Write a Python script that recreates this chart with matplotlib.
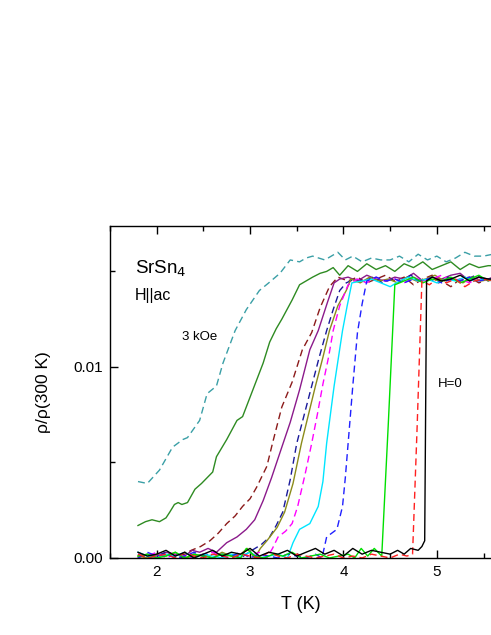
import matplotlib
matplotlib.use("Agg")
import matplotlib.pyplot as plt
from matplotlib.ticker import MultipleLocator

plt.rcParams.update({"font.family": ["Liberation Sans", "DejaVu Sans"], "font.size": 11})

# resistivity in units of 1e-3 (rho/rho(300K))
# 3 kOe, teal dashed
t_teal = [1.80, 1.90, 2.03, 2.17, 2.28, 2.33, 2.46, 2.54, 2.64, 2.71, 2.84, 2.96, 3.10, 3.20, 3.32, 3.43,
          3.53, 3.60, 3.67, 3.80, 3.94, 4.02, 4.10, 4.20, 4.30, 4.40, 4.50, 4.60, 4.70, 4.80, 4.90, 5.00,
          5.10, 5.20, 5.30, 5.40, 5.50, 5.60]
r_teal = [4.0, 3.9, 4.6, 5.8, 6.2, 6.3, 7.2, 8.6, 9.0, 10.2, 11.9, 13.0, 14.0, 14.4, 14.9, 15.6,
          15.5, 15.7, 15.8, 15.6, 16.0, 15.6, 15.8, 15.5, 15.7, 15.6, 15.6, 15.8, 15.5, 15.9, 15.6, 15.8,
          15.5, 15.7, 16.0, 15.8, 15.8, 15.9]
# dark green solid
t_green = [1.80, 1.88, 1.95, 2.03, 2.10, 2.14, 2.19, 2.23, 2.27, 2.33, 2.41, 2.48, 2.54, 2.60, 2.64, 2.75,
           2.86, 2.92, 3.03, 3.14, 3.21, 3.28, 3.34, 3.45, 3.53, 3.60, 3.67, 3.75, 3.82, 3.89, 3.96, 4.05,
           4.15, 4.25, 4.35, 4.45, 4.55, 4.65, 4.75, 4.85, 4.95, 5.05, 5.15, 5.25, 5.35, 5.45, 5.55, 5.60]
r_green = [1.7, 1.9, 2.0, 1.9, 2.1, 2.4, 2.8, 2.9, 2.8, 2.9, 3.6, 3.9, 4.2, 4.5, 5.3, 6.2,
           7.2, 7.4, 8.8, 10.2, 11.3, 12.0, 12.5, 13.5, 14.3, 14.5, 14.7, 14.9, 15.0, 15.2, 14.8, 15.3,
           15.0, 15.4, 15.1, 15.3, 15.0, 15.4, 15.2, 15.5, 15.1, 15.3, 15.5, 15.1, 15.4, 15.2, 15.3, 15.3]
# brown dashed
t_brown = [1.80, 1.90, 2.00, 2.10, 2.20, 2.30, 2.37, 2.47, 2.57, 2.66, 2.75, 2.84, 2.92, 3.00, 3.07, 3.18,
           3.24, 3.34, 3.45, 3.56, 3.66, 3.75, 3.85, 3.94, 4.05, 4.15, 4.25, 4.35, 4.45, 4.55, 4.65, 4.75,
           4.85, 4.95, 5.05, 5.15, 5.25, 5.35, 5.45, 5.55, 5.60]
r_brown = [0.1, 0.2, 0.0, 0.3, 0.1, 0.2, 0.4, 0.6, 0.9, 1.3, 1.8, 2.2, 2.7, 3.1, 3.7, 4.8,
           6.0, 7.9, 9.2, 10.9, 11.8, 13.1, 14.2, 14.7, 14.5, 14.7, 14.4, 14.6, 14.8, 14.5, 14.7, 14.3,
           14.6, 14.8, 14.5, 14.2, 14.6, 14.7, 14.4, 14.6, 14.6]
# purple solid
t_purple = [1.80, 1.90, 2.00, 2.10, 2.20, 2.30, 2.38, 2.46, 2.55, 2.64, 2.75, 2.86, 2.96, 3.05, 3.14, 3.23,
            3.34, 3.43, 3.53, 3.64, 3.73, 3.83, 3.90, 3.96, 4.05, 4.15, 4.25, 4.35, 4.45, 4.55, 4.65, 4.75,
            4.85, 4.95, 5.05, 5.15, 5.25, 5.35, 5.45, 5.55, 5.60]
r_purple = [0.0, 0.2, 0.1, 0.3, 0.2, 0.1, 0.4, 0.3, 0.5, 0.3, 0.8, 1.1, 1.5, 2.0, 3.0, 4.2,
            5.8, 7.1, 8.8, 10.9, 11.9, 13.4, 14.4, 14.6, 14.7, 14.5, 14.8, 14.6, 14.5, 14.7, 14.6, 14.9,
            14.5, 14.7, 14.6, 14.8, 14.9, 14.5, 14.7, 14.6, 14.7]
# navy dashed
t_navy = [1.80, 1.90, 2.00, 2.10, 2.20, 2.30, 2.40, 2.50, 2.60, 2.70, 2.80, 2.90, 3.02, 3.12, 3.21, 3.28,
          3.35, 3.43, 3.50, 3.58, 3.66, 3.74, 3.82, 3.89, 3.96, 4.03, 4.12, 4.22, 4.32, 4.42, 4.52, 4.62,
          4.72, 4.82, 4.92, 5.02, 5.12, 5.22, 5.32, 5.42, 5.52, 5.60]
r_navy = [0.2, 0.0, 0.1, 0.3, 0.1, 0.0, 0.2, 0.1, 0.3, 0.1, 0.2, 0.0, 0.4, 0.7, 1.1, 1.7,
          2.4, 4.1, 6.0, 7.5, 9.0, 10.5, 11.9, 13.0, 14.0, 14.4, 14.6, 14.5, 14.7, 14.4, 14.6, 14.5,
          14.8, 14.5, 14.6, 14.4, 14.7, 14.5, 14.6, 14.8, 14.5, 14.6]
# olive solid
t_olive = [1.80, 1.90, 2.00, 2.10, 2.20, 2.30, 2.40, 2.50, 2.60, 2.70, 2.80, 2.90, 2.97, 3.05, 3.11, 3.18,
           3.29, 3.37, 3.46, 3.55, 3.62, 3.70, 3.78, 3.85, 3.94, 4.03, 4.08, 4.18, 4.28, 4.38, 4.48, 4.58,
           4.68, 4.78, 4.88, 4.98, 5.08, 5.18, 5.28, 5.38, 5.48, 5.58]
r_olive = [0.1, 0.0, 0.2, 0.1, 0.3, 0.0, 0.1, 0.2, 0.0, 0.3, 0.1, 0.2, 0.5, 0.0, 0.5, 0.9,
           1.6, 2.4, 3.9, 6.0, 7.4, 9.0, 10.5, 11.9, 13.2, 14.0, 14.6, 14.4, 14.7, 14.5, 14.6, 14.4,
           14.7, 14.5, 14.6, 14.8, 14.5, 14.6, 14.4, 14.7, 14.5, 14.6]
# magenta dashed
t_mag = [1.80, 1.90, 2.00, 2.10, 2.20, 2.30, 2.40, 2.50, 2.60, 2.70, 2.80, 2.90, 3.00, 3.10, 3.18, 3.24,
         3.30, 3.38, 3.45, 3.51, 3.59, 3.66, 3.72, 3.78, 3.84, 3.89, 3.96, 4.05, 4.15, 4.25, 4.35, 4.45,
         4.55, 4.65, 4.75, 4.85, 4.95, 5.05, 5.15, 5.25, 5.35, 5.45, 5.55, 5.60]
r_mag = [0.2, 0.1, 0.3, 0.0, 0.2, 0.1, 0.0, 0.2, 0.3, 0.1, 0.0, 0.2, 0.1, 0.3, 0.0, 0.5,
         1.1, 1.4, 1.8, 2.7, 4.4, 6.0, 7.5, 9.1, 10.5, 11.9, 13.2, 14.3, 14.6, 14.4, 14.7, 14.5,
         14.6, 14.4, 14.7, 14.5, 14.6, 14.8, 14.5, 14.6, 14.4, 14.7, 14.5, 14.6]
# cyan solid
t_cyan = [1.80, 1.90, 2.00, 2.10, 2.20, 2.30, 2.40, 2.50, 2.60, 2.70, 2.80, 2.90, 3.00, 3.10, 3.20, 3.30,
          3.40, 3.46, 3.53, 3.64, 3.73, 3.78, 3.82, 3.90, 3.99, 4.04, 4.09, 4.20, 4.30, 4.40, 4.50, 4.60,
          4.70, 4.80, 4.90, 5.00, 5.10, 5.20, 5.30, 5.40, 5.50, 5.60]
r_cyan = [0.3, 0.1, 0.0, 0.2, 0.1, 0.3, 0.0, 0.2, 0.1, 0.0, 0.2, 0.1, 0.3, 0.0, 0.1, 0.2,
          0.0, 0.8, 1.5, 1.8, 2.7, 4.0, 6.0, 9.0, 11.9, 13.2, 14.4, 14.5, 14.6, 14.4, 14.2, 14.5,
          14.7, 14.5, 14.6, 14.4, 14.6, 14.5, 14.7, 14.5, 14.6, 14.5]
# blue dashed
t_blue = [1.80, 1.90, 2.00, 2.10, 2.20, 2.30, 2.40, 2.50, 2.60, 2.70, 2.80, 2.90, 3.00, 3.10, 3.20, 3.30,
          3.40, 3.50, 3.60, 3.70, 3.77, 3.82, 3.93, 3.99, 4.02, 4.05, 4.10, 4.15, 4.20, 4.25, 4.35, 4.45,
          4.55, 4.65, 4.75, 4.85, 4.95, 5.05, 5.15, 5.25, 5.35, 5.45, 5.55, 5.60]
r_blue = [0.0, 0.3, 0.1, 0.2, 0.0, 0.1, 0.3, 0.1, 0.0, 0.2, 0.1, 0.3, 0.0, 0.2, 0.1, 0.0,
          0.2, 0.1, 0.0, 0.2, 0.0, 1.1, 1.5, 2.7, 4.2, 6.0, 9.0, 11.8, 13.3, 14.5, 14.7, 14.5,
          14.6, 14.4, 14.6, 14.5, 14.7, 14.4, 14.6, 14.5, 14.7, 14.5, 14.6, 14.6]
# lime solid
t_lime = [1.80, 1.90, 2.00, 2.10, 2.20, 2.30, 2.40, 2.50, 2.60, 2.70, 2.80, 2.90, 2.96, 3.05, 3.15, 3.25,
          3.35, 3.45, 3.55, 3.65, 3.75, 3.85, 3.95, 4.05, 4.12, 4.19, 4.26, 4.33, 4.41, 4.48, 4.55, 4.65,
          4.75, 4.85, 4.95, 5.05, 5.15, 5.25, 5.35, 5.45, 5.55, 5.60]
r_lime = [0.1, 0.2, 0.0, 0.1, 0.3, 0.0, 0.2, 0.1, 0.0, 0.2, 0.1, 0.0, 0.5, 0.1, 0.0, 0.2,
          0.1, 0.3, 0.0, 0.1, 0.2, 0.0, 0.1, 0.2, 0.0, 0.5, 0.1, 0.5, 0.1, 7.0, 14.3, 14.5,
          14.7, 14.4, 14.6, 14.5, 14.7, 14.4, 14.6, 14.8, 14.5, 14.6]
# red dashed
t_red = [1.80, 1.90, 2.00, 2.10, 2.20, 2.30, 2.40, 2.50, 2.60, 2.70, 2.80, 2.90, 3.00, 3.10, 3.20, 3.30,
         3.40, 3.50, 3.60, 3.70, 3.80, 3.90, 4.00, 4.10, 4.20, 4.30, 4.40, 4.50, 4.60, 4.68, 4.74, 4.79,
         4.84, 4.92, 5.00, 5.10, 5.20, 5.30, 5.40, 5.50, 5.60]
r_red = [0.2, 0.0, 0.1, 0.2, 0.0, 0.3, 0.1, 0.0, 0.2, 0.1, 0.0, 0.2, 0.1, 0.0, 0.3, 0.1,
         0.0, 0.2, 0.1, 0.0, 0.1, 0.2, 0.0, 0.1, 0.0, 0.2, 0.1, 0.0, 0.2, 0.1, 0.2, 7.0,
         14.5, 14.3, 14.6, 14.4, 14.6, 14.2, 14.5, 14.6, 14.5]
# black solid, H=0
t_black = [1.80, 1.90, 2.00, 2.10, 2.20, 2.30, 2.40, 2.50, 2.60, 2.70, 2.80, 2.90, 3.00, 3.10, 3.20, 3.30,
           3.40, 3.50, 3.60, 3.70, 3.80, 3.90, 4.00, 4.10, 4.20, 4.30, 4.40, 4.50, 4.58, 4.65, 4.72, 4.80,
           4.84, 4.87, 4.89, 4.95, 5.05, 5.15, 5.25, 5.35, 5.45, 5.55, 5.60]
r_black = [0.3, 0.1, 0.2, 0.4, 0.1, 0.3, 0.0, 0.2, 0.4, 0.1, 0.3, 0.2, 0.5, 0.1, 0.3, 0.2,
           0.4, 0.1, 0.3, 0.5, 0.2, 0.4, 0.1, 0.5, 0.2, 0.4, 0.3, 0.2, 0.4, 0.2, 0.5, 0.4,
           0.6, 0.9, 14.5, 14.7, 14.5, 14.6, 14.8, 14.5, 14.7, 14.6, 14.6]

curves = [
    (t_teal, r_teal, "#3a9fa6", (0, (5, 3))),
    (t_green, r_green, "#2e8b22", "-"),
    (t_brown, r_brown, "#8b1a1a", (0, (5, 3))),
    (t_purple, r_purple, "#8b1a8b", "-"),
    (t_navy, r_navy, "#1a1a9a", (0, (5, 3))),
    (t_olive, r_olive, "#8b8b1a", "-"),
    (t_mag, r_mag, "#ff00ff", (0, (5, 3))),
    (t_cyan, r_cyan, "#00e5ff", "-"),
    (t_blue, r_blue, "#2020ff", (0, (5, 3))),
    (t_lime, r_lime, "#00e000", "-"),
    (t_red, r_red, "#ff2020", (0, (5, 3))),
    (t_black, r_black, "#000000", "-"),
]

fig = plt.figure(figsize=(4.91, 6.35), dpi=100)
ax = fig.add_axes([0.224, 0.1213, 0.776, 0.5229])
for t, r, c, ls in curves:
    ax.plot(t, [v * 1e-3 for v in r], color=c, ls=ls, lw=1.0)

ax.set_xlim(1.5, 5.58)
ax.set_ylim(0, 0.01738)
ax.xaxis.set_major_locator(MultipleLocator(1))
ax.xaxis.set_minor_locator(MultipleLocator(0.5))
ax.yaxis.set_major_locator(MultipleLocator(0.01))
ax.yaxis.set_minor_locator(MultipleLocator(0.005))
ax.set_yticks([0, 0.01])
ax.set_yticklabels(["0.00", "0.01"])
ax.tick_params(which="both", direction="in", top=True, right=False, labelsize=11)
ax.tick_params(which="major", length=6, width=1, pad=5)
ax.tick_params(which="minor", length=3.5, width=1)
ax.spines["right"].set_visible(False)
for s in ["left", "top", "bottom"]:
    ax.spines[s].set_linewidth(1.0)

ax.set_xlabel("T (K)", fontsize=13, labelpad=12)
ax.set_ylabel("ρ/ρ(300 K)", fontsize=12.5, labelpad=16)

ax.text(0.066, 0.87, "SrSn$_4$", transform=ax.transAxes, fontsize=13.5, va="center")
ax.text(0.066, 0.79, "H||ac", transform=ax.transAxes, fontsize=11.5, va="center")
ax.text(0.19, 0.665, "3 kOe", transform=ax.transAxes, fontsize=9.5, va="center")
ax.text(0.86, 0.525, "H=0", transform=ax.transAxes, fontsize=9.5, va="center")

fig.savefig("out.png", dpi=100)
